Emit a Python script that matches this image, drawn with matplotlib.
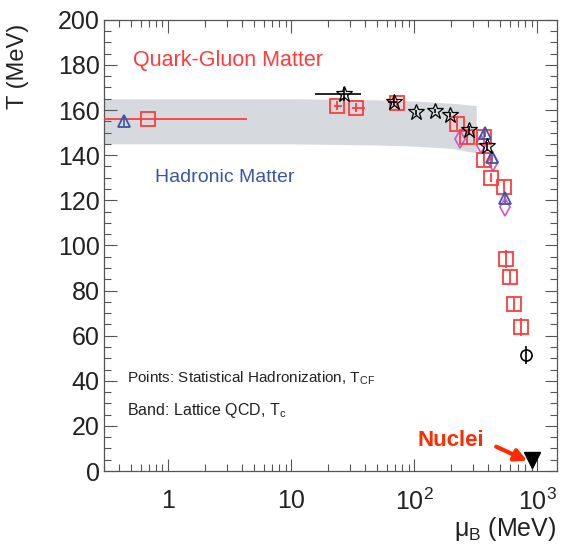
import numpy as np
import matplotlib.pyplot as plt
from matplotlib.ticker import FixedLocator, FixedFormatter, MultipleLocator, LogLocator, NullFormatter

plt.rcParams['font.family'] = ['Liberation Sans', 'DejaVu Sans']
plt.rcParams['mathtext.fontset'] = 'custom'
plt.rcParams['mathtext.rm'] = 'Liberation Sans'
plt.rcParams['mathtext.it'] = 'Liberation Sans'

# lattice QCD band
band_mu = [0.3, 10, 50, 100, 200, 320]
band_hi = [165, 165, 164.5, 164, 163, 162]
band_lo = [145, 145, 144.5, 144, 143, 141]

# statistical hadronization fits
sq_mu = [0.69, 23.7, 33.8, 72.8, 224, 270, 371, 371, 423, 539, 560, 603, 650, 741]
sq_T = [156, 162, 161, 163, 154, 148, 148, 138, 130, 126, 94, 86, 74, 64]
sq_xlo = [0.68, 1.5, 2.5, 0, 0, 0, 0, 0, 0, 0, 0, 0, 0, 0]
sq_xhi = [3.7, 2.0, 6.0, 0, 0, 0, 0, 0, 0, 0, 0, 0, 0, 0]
sq_yerr = [0, 2, 2, 2, 3, 3, 3, 3, 2, 3, 4, 3, 3, 4]

star_mu = [27, 68.8, 104, 148, 196, 280, 392]
star_T = [167, 163.6, 159, 159.6, 158, 151, 144]
star_xlo = [11.4, 8, 0, 0, 0, 0, 0]
star_xhi = [10, 4, 0, 0, 0, 0, 0]
star_yerr = [3, 2, 1, 1, 1, 2, 2]

tri_mu = [0.44, 378, 431, 550]
tri_T = [155, 150, 139, 121]

dia_mu = [237, 351, 439, 550]
dia_T = [147, 145, 137, 117]

circ_mu = [814]
circ_T = [51.5]

nuclei_mu = [900]
nuclei_T = [5]

red = '#ff3b3b'
blue = '#3a55a8'
magenta = '#cc55cc'
dark = '#222222'

fig = plt.figure(figsize=(5.61, 5.49), dpi=100)
ax = fig.add_axes([0.185, 0.142, 0.808, 0.822])

ax.fill_between(band_mu, band_lo, band_hi, color='#d6dadf', lw=0, zorder=1)

ax.errorbar(sq_mu, sq_T, xerr=[sq_xlo, sq_xhi], yerr=sq_yerr, fmt='s', ms=10,
            mfc='none', mec=red, mew=1.3, ecolor=red, elinewidth=1.3, capsize=0, zorder=3)
ax.errorbar(star_mu, star_T, xerr=[star_xlo, star_xhi], yerr=star_yerr, fmt='*', ms=12,
            mfc='none', mec='black', mew=0.9, ecolor='black', elinewidth=1.2, capsize=0, zorder=4)
ax.errorbar(tri_mu, tri_T, yerr=2, fmt='^', ms=9, mfc='none', mec=blue, mew=1.3,
            ecolor=blue, elinewidth=1.2, capsize=0, zorder=3)
ax.plot(dia_mu, dia_T, 'd', ms=9, mfc='none', mec=magenta, mew=1.2, zorder=3)
ax.errorbar(circ_mu, circ_T, yerr=4, fmt='o', ms=8, mfc='none', mec='black', mew=1.2,
            ecolor='black', elinewidth=1.2, capsize=0, zorder=3)
ax.plot(nuclei_mu, nuclei_T, 'v', ms=11, color='black', zorder=5)

ax.set_xscale('log')
ax.set_xlim(0.3, 1450)
ax.set_ylim(0, 200)

ax.xaxis.set_major_locator(FixedLocator([1, 10, 100, 1000]))
ax.xaxis.set_major_formatter(FixedFormatter(['1', '10', '$10^{2}$', '$10^{3}$']))
ax.xaxis.set_minor_locator(LogLocator(base=10, subs=np.arange(2, 10)))
ax.xaxis.set_minor_formatter(NullFormatter())
ax.yaxis.set_major_locator(MultipleLocator(20))
ax.yaxis.set_minor_locator(MultipleLocator(5))

ax.tick_params(which='both', direction='in', top=True, right=True, labelsize=18,
               color='#555555', labelcolor=dark)
ax.tick_params(which='major', length=9, width=0.8)
ax.tick_params(which='minor', length=5, width=0.8)
ax.tick_params(axis='x', pad=13)
ax.tick_params(axis='y', pad=3)
for s in ax.spines.values():
    s.set_color('#555555')
    s.set_linewidth(0.9)

# axis titles placed in figure pixels
fig.text(18 / 561, 1 - 66 / 549, 'T (MeV)', rotation=90, fontsize=17, color=dark,
         ha='center', va='center')
fig.text(556 / 561, 1 - 529 / 549, r'$\mu_{\mathrm{B}}$ (MeV)', fontsize=18, color=dark,
         ha='right', va='center')

ax.text(0.065, 0.91, 'Quark-Gluon Matter', color=red, fontsize=15.5, va='center',
        transform=ax.transAxes)
ax.text(0.113, 0.65, 'Hadronic Matter', color=blue, fontsize=14, va='center',
        transform=ax.transAxes)
ax.text(0.052, 0.205, r'Points: Statistical Hadronization, T$_{\mathrm{CF}}$', fontsize=11,
        va='center', color=dark, transform=ax.transAxes)
ax.text(0.052, 0.135, r'Band: Lattice QCD, T$_{\mathrm{c}}$', fontsize=11.5,
        va='center', color=dark, transform=ax.transAxes)

ax.text(106, 13.7, 'Nuclei', color='#ff2a00', fontsize=16, fontweight='bold',
        ha='left', va='center')
ax.annotate('', xy=(830, 4.5), xytext=(464, 10.8),
            arrowprops=dict(arrowstyle='-|>', color='#ff2a00', lw=3, mutation_scale=18,
                            shrinkA=0, shrinkB=0))

fig.savefig('out.png', dpi=100)
